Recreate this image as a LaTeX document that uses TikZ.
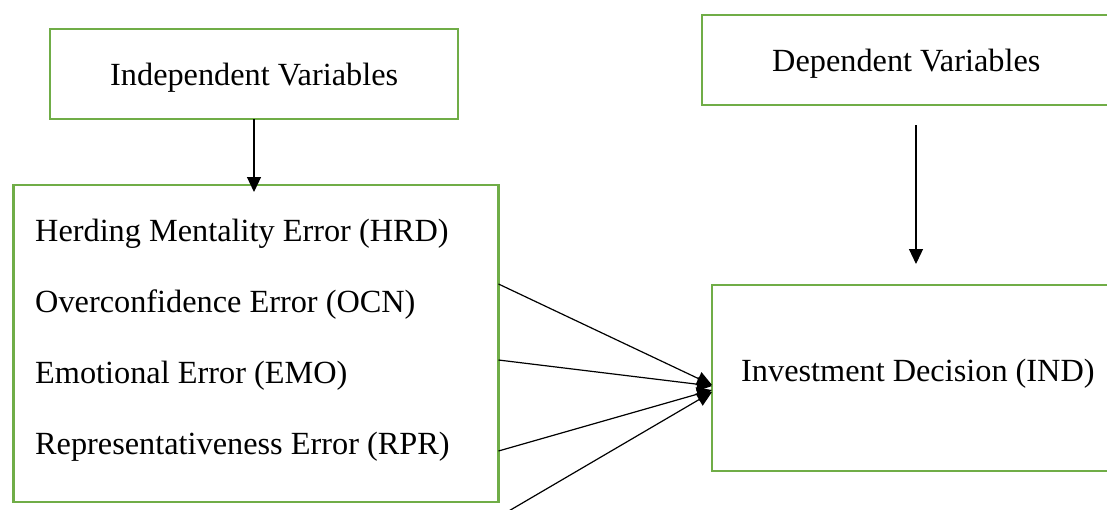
\documentclass[tikz,border=0pt]{standalone}
\usepackage{fontspec}
\setmainfont{Liberation Serif}
\usetikzlibrary{arrows.meta,calc}
\definecolor{boxgreen}{HTML}{70AD47}
\begin{document}
\begin{tikzpicture}[x=1pt,y=-1pt,
  gbox/.style={draw=boxgreen,line width=2.8pt,inner sep=0pt,outer sep=0pt,anchor=north west},
  lbl/.style={inner sep=0pt,font=\fontsize{32.3}{36}\selectfont,anchor=base west},
  conn/.style={line width=1.2pt,-{Triangle[width=14pt,length=15pt]}}]
\useasboundingbox (0,0) rectangle (1107,509);
\clip (0,0) rectangle (1107,509);

% boxes
\node[gbox,minimum width=408pt,minimum height=90pt] (indep) at (50,29) {};
\node[gbox,minimum width=485pt,minimum height=317pt] (errors) at (13.5,185) {};
\node[gbox,minimum width=420pt,minimum height=90pt] (dep) at (702,15) {};
\node[gbox,minimum width=410pt,minimum height=186pt] (decision) at (712,285) {};

% labels
\node[lbl] (indeptxt) at (110,85) {Independent Variables};
\node[lbl] (deptxt) at (772,71) {Dependent Variables};
\node[lbl] (hrd) at (35,241) {Herding Mentality Error (HRD)};
\node[lbl] (ocn) at (35,312) {Overconfidence Error (OCN)};
\node[lbl] (emo) at (35,383) {Emotional Error (EMO)};
\node[lbl] (rpr) at (35,454) {Representativeness Error (RPR)};
\node[lbl] (ind) at (741,381) {Investment Decision (IND)};

% vertical arrows
\draw[conn] (indep.south) -- ($(indep.south |- errors.north)+(0,7)$);
\coordinate (depfoot) at ($(dep.south west)+(214,20)$);
\draw[conn] (depfoot) -- ($(decision.north west)+(204,-21)$);

% arrows into the decision box
\draw[conn] ($(errors.north east)+(0,99)$)  -- ($(decision.north west)+(0,100)$);
\draw[conn] ($(errors.north east)+(0,175)$) -- ($(decision.north west)+(0,101)$);
\draw[conn] ($(errors.north east)+(0,266)$) -- ($(decision.north west)+(0,105)$);
\coordinate (fifth) at ($(errors.north east)+(0,332)$);
\draw[conn] (fifth) -- ($(decision.north west)+(0,107)$);
\end{tikzpicture}
\end{document}
